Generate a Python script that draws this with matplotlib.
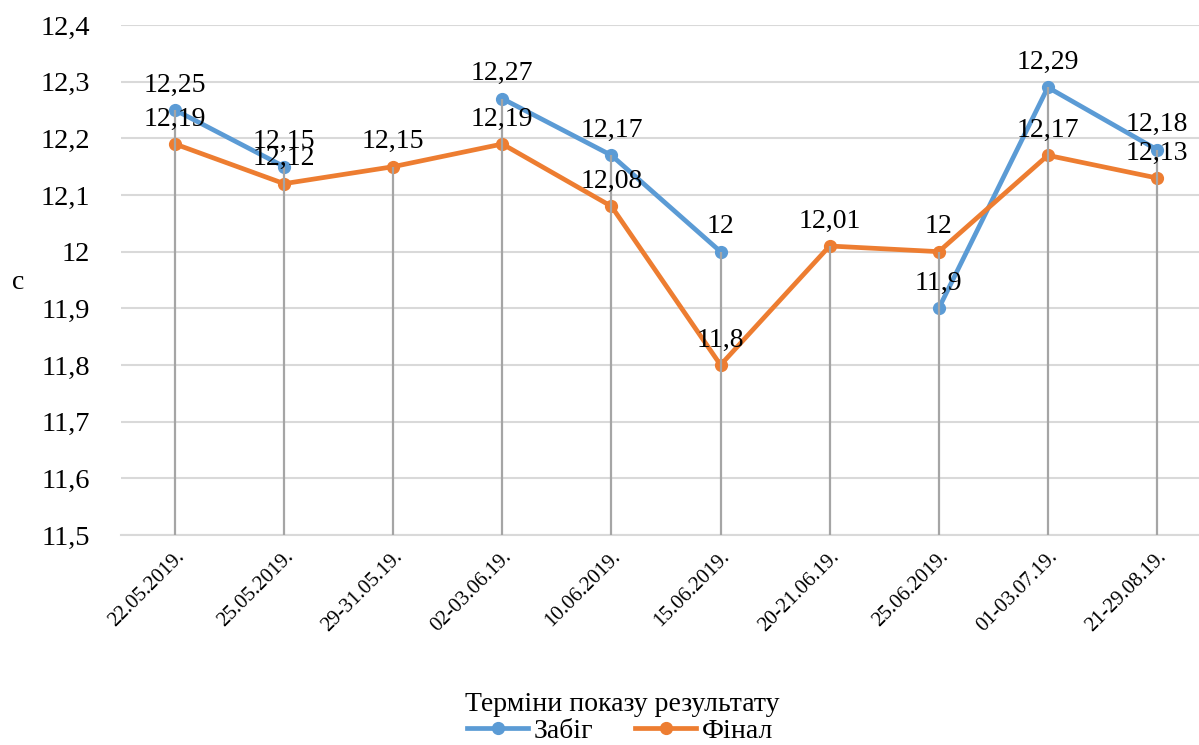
import numpy as np
import matplotlib.pyplot as plt
from matplotlib.lines import Line2D

plt.rcParams['font.family'] = ['Liberation Serif', 'DejaVu Serif']

# дані
dates = ["22.05.2019.", "25.05.2019.", "29-31.05.19.", "02-03.06.19.", "10.06.2019.",
         "15.06.2019.", "20-21.06.19.", "25.06.2019.", "01-03.07.19.", "21-29.08.19."]
zabig = [12.25, 12.15, np.nan, 12.27, 12.17, 12.0, np.nan, 11.9, 12.29, 12.18]
final = [12.19, 12.12, 12.15, 12.19, 12.08, 11.8, 12.01, 12.0, 12.17, 12.13]
yticks = [11.5, 11.6, 11.7, 11.8, 11.9, 12.0, 12.1, 12.2, 12.3, 12.4]

blue = "#5B9BD5"
orange = "#ED7D31"

def fmt(v):
    s = f"{v:.2f}".rstrip("0").rstrip(".")
    return s.replace(".", ",")

fig = plt.figure(figsize=(11.99, 7.45), dpi=100)
# the plot area runs slightly past the right edge, as in the original
ax = fig.add_axes([120.5 / 1199, 1 - 535 / 745, 1091 / 1199, 510 / 745])

x = np.arange(len(dates))
ax.set_xlim(-0.5, len(dates) - 0.5)
ax.set_ylim(11.5, 12.4)

ax.set_yticks(yticks)
ax.set_yticklabels([fmt(v) for v in yticks], fontsize=20.5)
ax.yaxis.grid(True, color="#D9D9D9", linewidth=1.5)
ax.set_axisbelow(True)
ax.tick_params(axis="y", length=0, pad=22)

for s in ["top", "right", "left"]:
    ax.spines[s].set_visible(False)
ax.spines["bottom"].set_color("#D9D9D9")
ax.spines["bottom"].set_linewidth(1.5)

# drop lines
tops = np.fmax(np.array(zabig), np.array(final))
ax.vlines(x, 11.5, tops, color="#A5A5A5", linewidth=1.6, zorder=5)

ax.plot(x, zabig, color=blue, linewidth=3.4, marker="o", markersize=8.5, zorder=3)
ax.plot(x, final, color=orange, linewidth=3.4, marker="o", markersize=8.5, zorder=3)

for xi, v in zip(x, zabig):
    if not np.isnan(v):
        ax.annotate(fmt(v), (xi, v), xytext=(0, 9), textcoords="offset points",
                    ha="center", va="bottom", fontsize=20, zorder=6)
for xi, v in zip(x, final):
    ax.annotate(fmt(v), (xi, v), xytext=(0, 9), textcoords="offset points",
                ha="center", va="bottom", fontsize=20, zorder=6)

ax.set_xticks(x)
ax.set_xticklabels(dates, rotation=45, ha="right", rotation_mode="anchor", fontsize=15)
ax.tick_params(axis="x", length=0, pad=9)

ax.set_xlabel("Терміни показу результату", fontsize=20)
ax.xaxis.set_label_coords((622 - 120.5) / 1091, (535 - 692) / 510)
fig.text(18 / 1199, 1 - 282 / 745, "с", fontsize=20, ha="center", va="center")

handles = [Line2D([], [], color=blue, linewidth=3.4, marker="o", markersize=8.5),
           Line2D([], [], color=orange, linewidth=3.4, marker="o", markersize=8.5)]
fig.legend(handles, ["Забіг", "Фінал"], loc="center", bbox_to_anchor=(620 / 1199, 1 - 731 / 745),
           ncol=2, frameon=False, fontsize=20, handlelength=2.2, handletextpad=0.2,
           columnspacing=1.5, borderpad=0)

fig.savefig("out.png", dpi=100)
